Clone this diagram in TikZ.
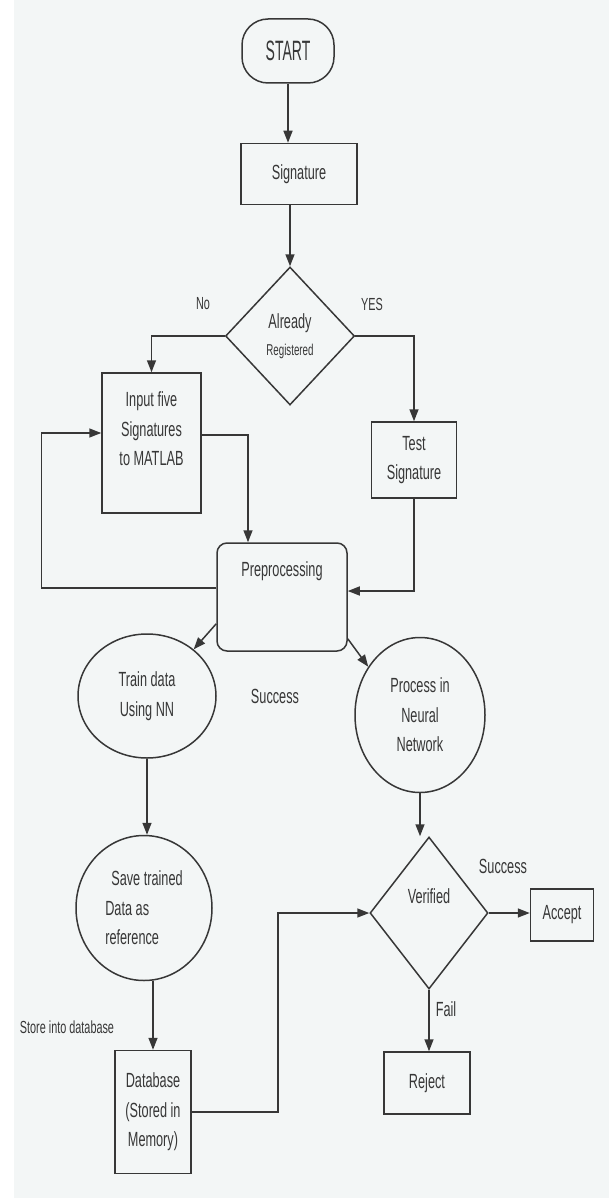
\documentclass[tikz,border=0pt]{standalone}
\usepackage{fontspec}
\setmainfont[FakeStretch=0.62]{Liberation Sans}
\newfontfamily\startfont[FakeStretch=0.5]{Liberation Sans}
\usepackage{tikz}
\usetikzlibrary{shapes.geometric,arrows.meta}
\definecolor{paper}{RGB}{243,246,246}
\definecolor{ink}{RGB}{55,55,55}

\begin{document}
\begin{tikzpicture}[x=1pt,y=-1pt,
    font=\fontsize{20.5}{29.5}\selectfont,
    box/.style={draw=ink,text=ink,line width=1.5pt,inner sep=0pt,align=center},
    roundbox/.style={box,rounded corners=#1},
    decision/.style={diamond,draw=ink,text=ink,line width=1.5pt,inner sep=0pt,align=center},
    bubble/.style={ellipse,draw=ink,text=ink,line width=1.5pt,inner sep=0pt,align=center},
    arr/.style={draw=ink,line width=1.5pt,-{Triangle[length=12pt,width=9pt]}},
    lbl/.style={text=ink,inner sep=0pt}]
        % Page
        \fill[paper] (14,0) rectangle (609,1198);
        \useasboundingbox (0,0) rectangle (609,1198);

        % Top of the chart
        \node[roundbox=26pt,minimum width=92pt,minimum height=64pt,font=\startfont\fontsize{28}{30}\selectfont] (start) at (288,51) {START};
        \node[box,minimum width=116pt,minimum height=61pt] (sig) at (299,174) {Signature};
        \node[decision,minimum width=129pt,minimum height=138pt] (reg) at (290,336) {Already\\[-3pt]{\fontsize{15.7}{20}\selectfont Registered}};

        % Two branches
        \node[box,minimum width=99pt,minimum height=140pt,text depth=28pt] (input) at (151.5,443) {Input five\\Signatures\\to MATLAB};
        \node[box,minimum width=85pt,minimum height=76pt] (test) at (414,460) {Test\\Signature};
        \node[roundbox=10pt,minimum width=130pt,minimum height=108pt,text depth=55pt] (prep) at (282,597) {Preprocessing};

        % Training side
        \node[bubble,minimum width=138pt,minimum height=124pt] (train) at (147,696) {Train data\\Using NN};
        \node[bubble,minimum width=136pt,minimum height=145pt,align=left] (save) at (144,908) {\hspace{6pt}Save trained\\Data as\\reference};
        \node[box,minimum width=76pt,minimum height=123pt] (db) at (153,1112) {Database\\(Stored in\\Memory)};

        % Testing side
        \node[bubble,minimum width=130pt,minimum height=155pt] (proc) at (420,715) {Process in\\Neural\\Network};
        \node[decision,minimum width=118pt,minimum height=152pt,text depth=33pt] (ver) at (429,913) {Verified};
        \node[box,minimum width=63pt,minimum height=52pt] (acc) at (562,915) {Accept};
        \node[box,minimum width=86pt,minimum height=62pt] (rej) at (427,1083) {Reject};

        % Labels
        \node[lbl,font=\fontsize{17.5}{20}\selectfont] (no) at (203,304) {No};
        \node[lbl,font=\fontsize{17.5}{20}\selectfont] (yes) at (372,304) {YES};
        \node[lbl] (okmid) at (275,696) {Success};
        \node[lbl] (okright) at (503,866) {Success};
        \node[lbl] (fail) at (446,1009) {Fail};
        \node[lbl,font=\fontsize{17.5}{20}\selectfont] (store) at (67,1027) {Store into database};

        % Connectors
        \draw[arr] (start.south) -- (start.south |- sig.north);
        \draw[arr] (reg.north |- sig.south) -- (reg.north);
        \draw[arr] (reg.west) -| (input.north);
        \draw[arr] (reg.east) -| (test.north);
        \draw[arr] ([yshift=8pt]input.east) -| ([xshift=-34pt]prep.north);
        \draw[arr] (test.south) |- ([yshift=6pt]prep.east);
        \draw[arr] ([yshift=9pt]prep.west) -- ++(-175,0) |- ([yshift=10pt]input.west);
        \draw[arr] ([yshift=28pt]prep.south west) -- (train.45);
        \draw[arr] ([yshift=13pt]prep.south east) -- (proc.137);
        \draw[arr] (train.south) -- (train.south |- save.north);
        \draw[arr] (save.south -| db.north) -- (db.north);
        \draw[arr] (db.east) -- ++(86,0) |- (ver.west);
        \draw[arr] (proc.south) -- (proc.south |- ver.north);
        \draw[arr] (ver.east) -- (ver.east -| acc.west);
        \draw[arr] (ver.south) -- (ver.south |- rej.north);
    \end{tikzpicture}
\end{document}
